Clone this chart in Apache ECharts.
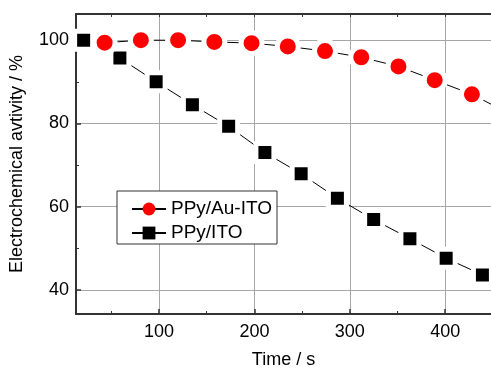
<!DOCTYPE html>
<html>
<head>
<meta charset="utf-8">
<script src="https://cdn.jsdelivr.net/npm/echarts@6/dist/echarts.min.js"></script>
<style>
	html, body { margin: 0; padding: 0; background: #fff; }
	#chart { width: 491px; height: 374px; }
</style>
</head>
<body>
<div id="chart"></div>
<script>
// values
const auTime = [43, 81, 120, 158, 197, 235, 274, 312, 351, 389, 428, 466];
const auActivity = [99.4, 100, 100, 99.6, 99.3, 98.5, 97.4, 95.9, 93.7, 90.4, 87.0, 82.5];
const itoTime = [21, 59, 97, 135, 173, 211, 249, 287, 325, 363, 401, 439];
const itoActivity = [100, 95.7, 90.0, 84.5, 79.3, 73.0, 67.9, 62.0, 56.9, 52.3, 47.6, 43.6];

const xMajorTicks = [100, 200, 300, 400];
const xMinorTicks = [50, 150, 250, 350];
const xTopTicks = [50, 100, 150, 200, 250, 300, 350, 400];
const yMajorTicks = [40, 60, 80, 100];
const yMinorTicks = [50, 70, 90];

const X_MIN = 13, X_MAX = 448;
const Y_MIN = 34.2, Y_MAX = 106.3;

const font = "Arial, 'Liberation Sans', sans-serif";
const axisColor = "#333";

function pairs(xs, ys) {
	return xs.map((x, i) => [x, ys[i]]);
}

// extra axis carrying only inward ticks
function tickOnlyAxis(position, ticks, len, min, max) {
	return {
		type: "value",
		position,
		min,
		max,
		axisLine: { show: false },
		axisTick: { show: true, inside: true, length: len, customValues: ticks, lineStyle: { color: axisColor, width: 1 } },
		axisLabel: { show: false },
		splitLine: { show: false }
	};
}

const chart = echarts.init(document.getElementById("chart"));

chart.setOption({
	animation: false,
	grid: { left: 74, right: 0, top: 14, bottom: 54, containLabel: false },
	legend: {
		data: ["PPy/Au-ITO", "PPy/ITO"],
		orient: "vertical",
		left: 117,
		top: 191,
		padding: [8, 5, 1, 14],
		itemGap: 4,
		itemWidth: 34,
		itemHeight: 16,
		itemStyle: { borderWidth: 0 },
		borderColor: axisColor,
		borderWidth: 1,
		backgroundColor: "#fff",
		textStyle: { fontFamily: font, fontSize: 19, color: "#000", lineHeight: 20 }
	},
	xAxis: [
		{
			type: "value",
			position: "bottom",
			min: X_MIN,
			max: X_MAX,
			name: "Time / s",
			nameLocation: "middle",
			nameGap: 37,
			nameTextStyle: { fontFamily: font, fontSize: 18, color: "#000" },
			axisLine: { show: true, lineStyle: { color: axisColor, width: 2 } },
			axisTick: { show: true, inside: true, length: 5, customValues: xMajorTicks, lineStyle: { color: axisColor, width: 1.5 } },
			axisLabel: { customValues: xMajorTicks, fontFamily: font, fontSize: 18, color: "#000", margin: 9 },
			splitLine: { show: true, lineStyle: { color: "#a6a6a6", width: 1 } }
		},
		tickOnlyAxis("bottom", xMinorTicks, 3, X_MIN, X_MAX),
		{
			...tickOnlyAxis("top", xTopTicks, 3, X_MIN, X_MAX),
			axisLine: { show: true, lineStyle: { color: axisColor, width: 2 } }
		}
	],
	yAxis: [
		{
			type: "value",
			position: "left",
			min: Y_MIN,
			max: Y_MAX,
			name: "Electrochemical avtivity / %",
			nameLocation: "middle",
			nameGap: 50,
			nameTextStyle: { fontFamily: font, fontSize: 18, color: "#000" },
			axisLine: { show: true, lineStyle: { color: axisColor, width: 2 } },
			axisTick: { show: true, inside: true, length: 5, customValues: yMajorTicks, lineStyle: { color: axisColor, width: 1.5 } },
			axisLabel: { customValues: yMajorTicks, fontFamily: font, fontSize: 18, color: "#000", margin: 7 },
			splitLine: { show: true, lineStyle: { color: "#a6a6a6", width: 1 } }
		},
		tickOnlyAxis("left", yMinorTicks, 3, Y_MIN, Y_MAX)
	],
	series: [
		{
			name: "PPy/ITO",
			type: "line",
			xAxisIndex: 0,
			yAxisIndex: 0,
			data: pairs(itoTime, itoActivity),
			symbol: "rect",
			symbolSize: 18,
			// white rim leaves the small gap between line and marker
			itemStyle: { color: "#000", borderColor: "#fff", borderWidth: 5 },
			lineStyle: { color: "#000", width: 1 },
			z: 3
		},
		{
			name: "PPy/Au-ITO",
			type: "line",
			xAxisIndex: 0,
			yAxisIndex: 0,
			data: pairs(auTime, auActivity),
			symbol: "circle",
			symbolSize: 21,
			itemStyle: { color: "#ff0000", borderColor: "#fff", borderWidth: 5 },
			lineStyle: { color: "#000", width: 1 },
			z: 4
		}
	]
});
</script>
</body>
</html>
